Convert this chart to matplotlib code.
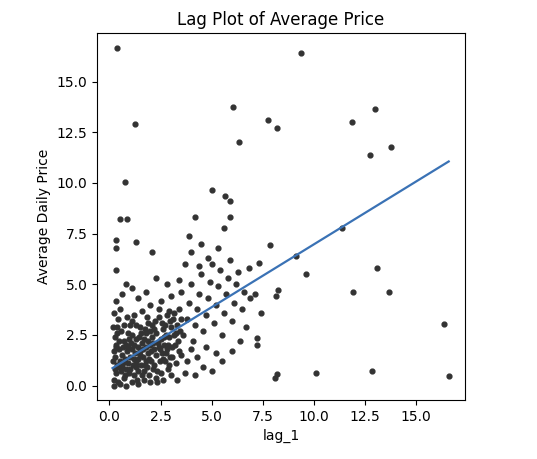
import matplotlib
matplotlib.use("Agg")
import matplotlib.pyplot as plt
import numpy as np

outlier_x = [0.39,9.35,1.23,6.05,7.77,8.2,6.35,13.0,11.86,13.76,12.73,0.74,5.0,0.54,0.84,5.67,5.9,5.9,4.2,0.3,0.34,1.3,0.3,2.07,7.87,9.15,9.6,11.4,13.07,11.9,13.7,8.26,8.16,16.35,16.6,12.85,10.1,8.2,8.1,7.2,7.2,7.4,7.1,6.9,6.85,7.3]
outlier_y = [16.67,16.4,12.9,13.75,13.1,12.7,12.0,13.65,13.0,11.8,11.4,10.06,9.65,8.2,8.2,9.35,9.1,8.3,8.3,7.2,6.8,7.1,5.7,6.6,6.95,6.4,5.5,7.8,5.78,4.6,4.6,4.7,4.4,3.05,0.45,0.7,0.6,0.55,0.4,2.0,2.35,3.6,4.5,4.3,5.8,6.05]

cluster = """0.2,0.3;0.3,0.6;0.4,0.9;0.5,1.2;0.6,1.5;0.7,0.4;0.8,0.8;0.9,1.1;1.0,1.4;1.1,1.8;1.2,0.5;1.3,0.9;1.4,1.3;1.5,1.7;1.6,2.1;1.7,0.7;1.8,1.2;1.9,1.6;2.0,2.0;2.1,2.4;2.2,1.0;2.3,1.5;2.4,1.9;2.5,2.3;2.6,2.8;2.7,1.2;2.8,1.8;2.9,2.4;3.0,2.9;3.1,3.3;0.2,1.7;0.3,2.0;0.25,2.4;0.35,2.9;0.4,3.3;0.5,3.8;0.3,4.2;0.6,4.5;0.2,0.0;0.5,0.1;0.8,0.0;1.1,0.2;1.4,0.1;1.7,0.3;2.0,0.2;2.3,0.4;2.6,0.3;3.0,0.5;3.3,0.3;3.7,0.6;4.2,0.5;4.6,0.9;5.0,0.7;0.7,2.2;0.9,2.6;1.0,3.0;1.2,3.5;1.3,2.3;1.5,2.9;1.6,3.7;1.8,2.6;1.9,3.1;2.0,4.0;2.2,2.8;2.4,3.4;2.5,4.2;2.7,3.0;2.9,3.7;3.0,4.4;3.2,2.0;3.3,3.0;3.4,3.8;3.5,4.6;3.6,2.5;3.8,3.3;3.9,4.1;4.0,5.0;4.1,2.2;4.2,3.0;4.3,3.8;4.4,4.5;4.5,5.5;4.6,2.7;4.7,3.5;4.8,4.3;4.9,5.1;5.0,6.0;5.1,3.1;5.2,4.0;5.3,4.9;5.4,5.7;5.5,2.5;5.6,3.6;5.7,4.5;5.8,5.3;5.9,6.2;6.0,3.2;6.1,4.1;6.2,5.0;6.3,5.6;6.5,3.8;6.6,4.6;6.7,2.9;3.5,1.5;3.8,1.2;4.0,1.8;4.3,1.4;4.7,1.9;5.2,1.6;5.5,1.2;6.0,1.7;6.4,2.2;3.4,5.2;3.7,6.0;4.0,6.6;3.9,7.4;4.5,7.0;4.8,6.3;5.3,6.8;5.6,7.8;4.4,5.9;2.8,5.0;2.3,5.3;1.8,4.6;1.4,4.3;1.1,4.8;0.8,5.0;0.15,1.2;0.25,1.4;0.35,1.0;0.45,1.8;0.55,0.7;0.65,1.9;0.75,1.3;0.85,1.7;0.95,0.6;1.05,2.1;1.15,1.0;1.25,1.6;1.35,0.3;1.45,2.4;1.55,1.0;1.65,1.4;1.75,2.8;1.85,0.9;1.95,1.3;2.05,1.7;2.15,2.1;2.25,3.2;2.35,0.7;2.45,1.2;2.55,1.6;2.65,2.0;2.75,2.5;2.85,0.8;2.95,1.4;3.05,1.9;3.15,2.5;3.25,1.1;3.35,2.2;3.45,2.7;0.18,2.9;0.22,3.6;0.28,0.8;0.32,1.9;0.38,2.6;0.42,0.2;0.48,2.2;0.52,1.0;0.58,2.7;0.62,0.9;0.68,1.1;0.72,3.0;0.78,0.5;0.82,2.0;0.88,3.4;0.92,1.9;0.98,2.3;1.02,0.8;1.08,2.5;1.12,3.2;1.18,1.3;1.22,2.0;1.28,1.1;1.32,3.0;1.38,1.9;1.42,0.7;1.48,1.5;1.52,2.6;1.58,0.5;1.62,1.8;1.68,2.3;1.72,1.0;1.78,1.9;1.82,3.4;1.88,2.2;1.92,0.5;1.98,2.7;2.02,1.2;2.08,3.0;2.12,0.8;2.18,1.8;2.28,2.6;2.32,0.2;2.38,2.1;2.42,3.8;2.48,1.8;2.52,0.6;2.58,3.1;2.62,1.3;2.68,2.4;2.78,1.6;2.82,3.5;2.88,2.0;2.92,1.0;2.98,3.2;3.08,1.4;3.18,3.6;3.28,2.6;3.38,1.7;3.48,3.3"""
cluster_x = [float(p.split(",")[0]) for p in cluster.split(";")]
cluster_y = [float(p.split(",")[1]) for p in cluster.split(";")]

lag_1 = outlier_x + cluster_x
price = outlier_y + cluster_y

reg_intercept = 0.77
reg_slope = 0.62

fig = plt.figure(figsize=(5.37, 4.59), dpi=100)
ax = fig.add_axes([0.181, 0.129, 0.685, 0.799])
ax.scatter(lag_1, price, s=12, color="#333333", zorder=2)
xs = np.array([min(lag_1), max(lag_1)])
ax.plot(xs, reg_intercept + reg_slope * xs, color="#3a72b5", lw=1.6, zorder=3)
ax.set_xlim(-0.6, 17.4)
ax.set_ylim(-0.7, 17.4)
ax.set_xticks([0, 2.5, 5, 7.5, 10, 12.5, 15])
ax.set_yticks([0, 2.5, 5, 7.5, 10, 12.5, 15])
ax.set_xlabel("lag_1")
ax.set_ylabel("Average Daily Price")
ax.set_title("Lag Plot of Average Price")
fig.savefig("out.png", dpi=100)
